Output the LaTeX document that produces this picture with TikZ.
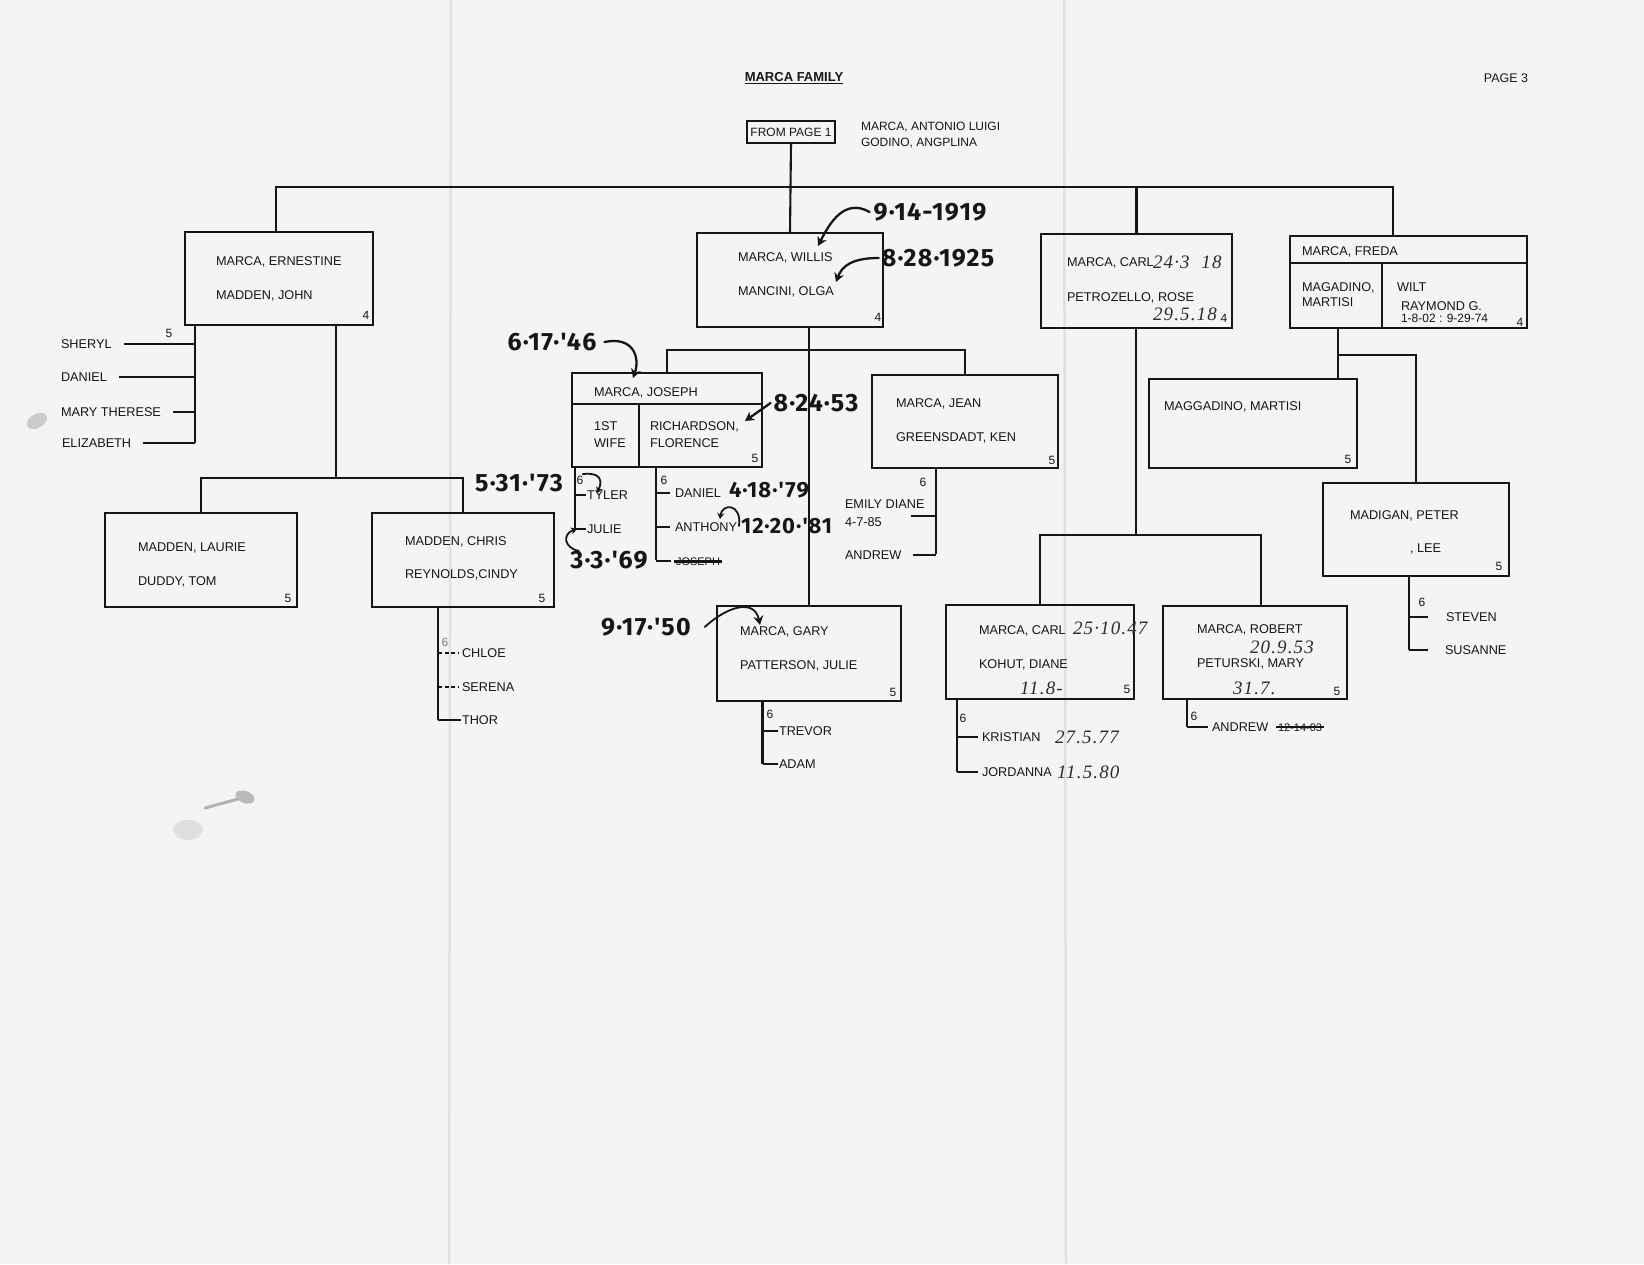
\documentclass[tikz,border=0pt]{standalone}
\usepackage{fontspec}
\setmainfont{Liberation Sans}
\newfontfamily\markerfont{Fira Sans}[LetterSpace=5]
\newfontfamily\penfont{Liberation Serif}[LetterSpace=6]
\usetikzlibrary{arrows.meta}
\definecolor{paper}{RGB}{244,244,242}
\definecolor{inkc}{RGB}{22,22,22}
\definecolor{pencol}{RGB}{45,45,45}
\definecolor{foldc}{RGB}{224,224,222}

\begin{document}
\begin{tikzpicture}[x=1pt,y=-1pt,
  every node/.style={inner sep=0pt,outer sep=0pt},
  box/.style={draw=inkc,line width=2.3pt,anchor=north west,rectangle},
  famline/.style={draw=inkc,line width=2.1pt},
  dotline/.style={draw=inkc,line width=1.6pt,dash pattern=on 4pt off 2.5pt},
  nm/.style={anchor=west,text=inkc,font=\fontsize{12.7}{14}\selectfont,text height=9pt,text depth=0pt},
  gen/.style={text=inkc,font=\fontsize{12}{14}\selectfont,text height=8.6pt,text depth=0pt},
  hand/.style={text=inkc,font=\markerfont\bfseries\fontsize{25}{27}\selectfont},
  smallhand/.style={text=inkc,anchor=west,font=\markerfont\bfseries\fontsize{22}{24}\selectfont},
  pen/.style={anchor=west,text=pencol,font=\penfont\itshape\fontsize{19}{21}\selectfont},
  marrow/.style={draw=inkc,line width=2.3pt,line cap=round,-{Stealth[length=9pt,width=10pt]}},
  smallarrow/.style={draw=inkc,line width=1.8pt,line cap=round,-{Stealth[length=6pt,width=7pt]}},
  strike/.style={draw=inkc,line width=2pt},
]
% paper and its folds
\fill[paper] (0,0) rectangle (1644,1264);
\useasboundingbox (0,0) rectangle (1644,1264);
\draw[foldc,line width=2.5pt] (451,0) -- (449,1264);
\draw[foldc,line width=2.5pt] (1064,0) -- (1066,1264);

% ink stains
\fill[gray!65,opacity=0.8] (245,797) ellipse [x radius=10, y radius=6, rotate=-20];
\draw[gray!60,line width=3pt,line cap=round] (205,808) -- (238,799);
\fill[gray!35,opacity=0.6] (188,830) ellipse [x radius=15, y radius=10];
\fill[gray!40] (37,421) ellipse [x radius=11, y radius=7, rotate=30];

% heading
\node[text=inkc,font=\bfseries\fontsize{13}{15}\selectfont] (title) at (794,77) {MARCA FAMILY};
\draw[inkc,line width=1.3pt] ([yshift=-2pt]title.south west) -- ([yshift=-2pt]title.south east);
\node[text=inkc,font=\fontsize{12.5}{14}\selectfont] (page) at (1506,78) {PAGE 3};

% link to the previous page and the parents
\node[box,line width=2pt,minimum width=88pt,minimum height=22pt,font=\fontsize{12}{14}\selectfont,text=inkc] (from) at (747,121) {FROM PAGE 1};
\node[gen,anchor=west] (par1) at (861,126) {MARCA, ANTONIO LUIGI};
\node[gen,anchor=west] (par2) at (861,142) {GODINO, ANGPLINA};

% generation 4
\node[box,minimum width=188pt,minimum height=93pt] (ern) at (185,232) {};
\node[box,minimum width=186pt,minimum height=94pt] (wil) at (697,233) {};
\node[box,minimum width=191pt,minimum height=94pt] (carl) at (1041,234) {};
\node[box,minimum width=237pt,minimum height=92pt] (freda) at (1290,236) {};
\coordinate (fh) at (1290,263);
\coordinate (fv) at (1382,263);
\draw[famline] (fh) -- (fh -| freda.east);
\draw[famline] (fv) -- (fv |- freda.south);

\node[nm] at (216,261) {MARCA, ERNESTINE};
\node[nm] at (216,295) {MADDEN, JOHN};
\node[gen] at (366,315) {4};
\node[nm] at (738,257) {MARCA, WILLIS};
\node[nm] at (738,291) {MANCINI, OLGA};
\node[gen] at (878,317) {4};
\node[nm] at (1067,262) {MARCA, CARL};
\node[nm] at (1067,297) {PETROZELLO, ROSE};
\node[gen] at (1224,318) {4};
\node[nm] at (1302,251) {MARCA, FREDA};
\node[nm] at (1302,287) {MAGADINO,};
\node[nm] at (1302,302) {MARTISI};
\node[nm] at (1397,287) {WILT};
\node[nm] at (1401,306) {RAYMOND G.};
\node[nm,font=\fontsize{12}{14}\selectfont] at (1401,318) {1-8-02 : 9-29-74};
\node[gen] at (1520,322) {4};

% top bar
\coordinate (tl) at (276,187);
\coordinate (tr) at (1393,187);
\draw[famline] (ern.north -| tl) |- (tr) -- (freda.north -| tr);
\draw[famline] (from.south) -- (wil.north);
\draw[famline] (carl.north |- tl) -- (carl.north);

% Ernestine's children
\coordinate (ekv) at (195,443);
\node[nm] (k1) at (61,344) {SHERYL};
\node[nm] (k2) at (61,377) {DANIEL};
\node[nm] (k3) at (61,412) {MARY THERESE};
\node[nm] (k4) at (62,443) {ELIZABETH};
\draw[famline] (ern.south -| ekv) -- (ekv);
\foreach \k in {k1,k2,k3,k4} \draw[famline] ([xshift=12pt]\k.east) -- (\k.east -| ekv);
\node[gen] at (169,333) {5};

% Madden families
\node[box,minimum width=192pt,minimum height=94pt] (laur) at (105,513) {};
\node[box,minimum width=182pt,minimum height=94pt] (chris) at (372,513) {};
\coordinate (ej) at (336,478);
\draw[famline] (ern.south -| ej) -- (ej);
\draw[famline] (laur.north) |- (ej) -| (chris.north);
\node[nm] at (138,547) {MADDEN, LAURIE};
\node[nm] at (138,581) {DUDDY, TOM};
\node[gen] at (288,598) {5};
\node[nm] at (405,541) {MADDEN, CHRIS};
\node[nm] at (405,574) {REYNOLDS,CINDY};
\node[gen] at (542,598) {5};

\coordinate (chv) at (438,720);
\draw[famline] (chris.south -| chv) -- (chv);
\node[gen,text=gray] at (445,642) {6};
\node[nm] (c1) at (462,653) {CHLOE};
\node[nm] (c2) at (462,687) {SERENA};
\node[nm] (c3) at (462,720) {THOR};
\draw[dotline] (c1.west -| chv) -- ([xshift=-3pt]c1.west);
\draw[dotline] (c2.west -| chv) -- ([xshift=-3pt]c2.west);
\draw[famline] (c3.west -| chv) -- ([xshift=-1pt]c3.west);

% Willis's children
\node[box,minimum width=190pt,minimum height=94pt] (jos) at (572,373) {};
\node[box,minimum width=186pt,minimum height=93pt] (jean) at (872,375) {};
\node[box,minimum width=184pt,minimum height=95pt] (gary) at (717,606) {};
\coordinate (jh) at (572,404);
\coordinate (jvd) at (639,404);
\draw[famline] (jh) -- (jh -| jos.east);
\draw[famline] (jvd) -- (jvd |- jos.south);
\coordinate (wj) at (809,350);
\draw[famline] (wil.south -| gary.north) -- (gary.north);
\draw[famline] (jos.north) |- (jean.north |- wj) -- (jean.north);

\node[nm] at (594,392) {MARCA, JOSEPH};
\node[nm] at (594,426) {1ST};
\node[nm] at (594,443) {WIFE};
\node[nm] at (650,426) {RICHARDSON,};
\node[nm] at (650,443) {FLORENCE};
\node[gen] at (755,458) {5};
\node[nm] at (896,403) {MARCA, JEAN};
\node[nm] at (896,437) {GREENSDADT, KEN};
\node[gen] at (1052,460) {5};
\node[nm] at (740,631) {MARCA, GARY};
\node[nm] at (740,665) {PATTERSON, JULIE};
\node[gen] at (893,692) {5};

% Joseph's children
\coordinate (jv) at (575,529);
\draw[famline] (jos.south -| jv) -- (jv);
\node[gen] at (580,480) {6};
\node[nm] (ty) at (587,495) {TYLER};
\node[nm] (ju) at (587,529) {JULIE};
\draw[famline] (ty.west -| jv) -- ([xshift=-1pt]ty.west);
\draw[famline] (ju.west -| jv) -- ([xshift=-1pt]ju.west);

\coordinate (flv) at (656,560);
\draw[famline] (jos.south -| flv) -- (flv);
\node[gen] at (664,480) {6};
\node[nm] (da) at (675,493) {DANIEL};
\node[nm] (an) at (675,527) {ANTHONY};
\node[nm,font=\fontsize{11}{12}\selectfont] (jo) at (676,561) {JOSEPH};
\draw[famline] (da.west -| flv) -- ([xshift=-5pt]da.west);
\draw[famline] (an.west -| flv) -- ([xshift=-5pt]an.west);
\draw[famline] (jo.west -| flv) -- ([xshift=-5pt]jo.west);
\draw[strike,line width=3pt] ([xshift=-2pt]jo.west) -- ([xshift=2pt]jo.east);

% Jean's children
\coordinate (jnv) at (936,554);
\coordinate (et) at (911,516);
\draw[famline] (jean.south -| jnv) -- (jnv);
\node[gen] at (923,482) {6};
\node[nm] at (845,504) {EMILY DIANE};
\node[nm] at (845,522) {4-7-85};
\node[nm] (aj) at (845,555) {ANDREW};
\draw[famline] (et) -- (et -| jnv);
\draw[famline] ([xshift=12pt]aj.east) -- (aj.east -| jnv);

% Gary's children
\coordinate (gv) at (762.5,764);
\draw[famline] (gary.south -| gv) -- (gv);
\node[gen] at (770,714) {6};
\node[nm] (tr1) at (779,731) {TREVOR};
\node[nm] (ad) at (779,764) {ADAM};
\draw[famline] (tr1.west -| gv) -- ([xshift=-1pt]tr1.west);
\draw[famline] (ad.west -| gv) -- ([xshift=-1pt]ad.west);

% Carl's children
\node[box,minimum width=188pt,minimum height=94pt] (carl2) at (946,605) {};
\node[box,minimum width=184pt,minimum height=93pt] (rob) at (1163,606) {};
\coordinate (cb) at (1136,535);
\coordinate (cbr) at (1261,535);
\draw[famline] (carl.south -| cb) -- (cb);
\draw[famline] (carl2.north) |- (cbr) -- (rob.north -| cbr);
\node[nm] at (979,630) {MARCA, CARL};
\node[nm] at (979,664) {KOHUT, DIANE};
\node[gen] at (1127,689) {5};
\node[nm] at (1197,629) {MARCA, ROBERT};
\node[nm] at (1197,663) {PETURSKI, MARY};
\node[gen] at (1337,691) {5};

\coordinate (cv) at (957,772);
\draw[famline] (carl2.south -| cv) -- (cv);
\node[gen] at (963,718) {6};
\node[nm] (kr) at (982,737) {KRISTIAN};
\node[nm] (jd) at (982,772) {JORDANNA};
\draw[famline] (kr.west -| cv) -- ([xshift=-4pt]kr.west);
\draw[famline] (jd.west -| cv) -- ([xshift=-4pt]jd.west);

\coordinate (rv) at (1187,727);
\draw[famline] (rob.south -| rv) -- (rv);
\node[gen] at (1194,716) {6};
\node[nm] (ar) at (1212,727) {ANDREW};
\draw[famline] (rv) -- ([xshift=-4pt]ar.west);
\node[gen,anchor=west,font=\fontsize{11}{13}\selectfont] (xd) at (1278,727) {12-14-03};
\draw[strike] ([xshift=-2pt]xd.west) -- ([xshift=2pt]xd.east);

% Freda's children
\node[box,minimum width=208pt,minimum height=89pt] (magg) at (1149,379) {};
\node[box,minimum width=186pt,minimum height=93pt] (madi) at (1323,483) {};
\coordinate (fd) at (1338,355);
\draw[famline] (freda.south -| fd) -- (magg.north -| fd);
\draw[famline] (fd) -| (madi.north);
\node[nm] at (1164,406) {MAGGADINO, MARTISI};
\node[gen] at (1348,459) {5};
\node[nm] at (1350,515) {MADIGAN, PETER};
\node[nm] at (1410,548) {, LEE};
\node[gen] at (1499,566) {5};

\coordinate (mv) at (1409,650);
\draw[famline] (madi.south -| mv) -- (mv);
\node[gen] at (1422,602) {6};
\node[nm] (st) at (1446,617) {STEVEN};
\node[nm] (su) at (1445,650) {SUSANNE};
\draw[famline] (st.west -| mv) -- ([xshift=-18pt]st.west);
\draw[famline] (su.west -| mv) -- ([xshift=-17pt]su.west);

% dates added in marker
\node[hand] (d1) at (930,212) {9·14-1919};
\coordinate (a1) at (818,246);
\draw[marrow] ([xshift=-4pt]d1.west) .. controls (845,198) and (830,222) .. (a1);
\node[hand] (d2) at (938,258) {8·28·1925};
\coordinate (a2) at (836,282);
\draw[marrow] ([xshift=-3pt]d2.west) .. controls (852,258) and (842,266) .. (a2);
\node[hand] (d3) at (552,342) {6·17·'46};
\coordinate (a3) at (633,378);
\draw[marrow] ([xshift=8pt]d3.east) .. controls (634,336) and (640,358) .. (a3);
\node[hand] (d4) at (816,403) {8·24·53};
\coordinate (a4) at (745,421);
\draw[marrow] ([xshift=-3pt]d4.west) -- (a4);
\node[hand] (d5) at (519,483) {5·31·'73};
\coordinate (a5) at (597,493);
\draw[smallarrow] ([xshift=20pt]d5.north east) .. controls (600,472) and (603,480) .. (a5);
\node[hand] (d6) at (609,560) {3·3·'69};
\coordinate (a6) at (577,529);
\draw[smallarrow] ([xshift=-30pt]d6.north) .. controls (564,548) and (562,534) .. (a6);
\node[smallhand] (d7) at (729,490) {4·18·'79};
\node[smallhand] (d8) at (741,526) {12·20·'81};
\coordinate (a8) at (720,519);
\draw[smallarrow] ([xshift=-2pt]d8.west) .. controls (742,503) and (722,503) .. (a8);
\node[hand] (d9) at (646,627) {9·17·'50};
\coordinate (a9) at (760,625);
\draw[marrow,line width=1.8pt] ([xshift=14pt]d9.east) .. controls (730,604) and (755,600) .. (a9);

% dates added in pen
\node[pen] at (1153,262) {24·3\ \ 18};
\node[pen] at (1153,314) {29.5.18};
\node[pen] at (1073,628) {25·10.47};
\node[pen] at (1020,688) {11.8-};
\node[pen] at (1055,737) {27.5.77};
\node[pen] at (1057,772) {11.5.80};
\node[pen] at (1250,647) {20.9.53};
\node[pen] at (1233,688) {31.7.};
\end{tikzpicture}
\end{document}
